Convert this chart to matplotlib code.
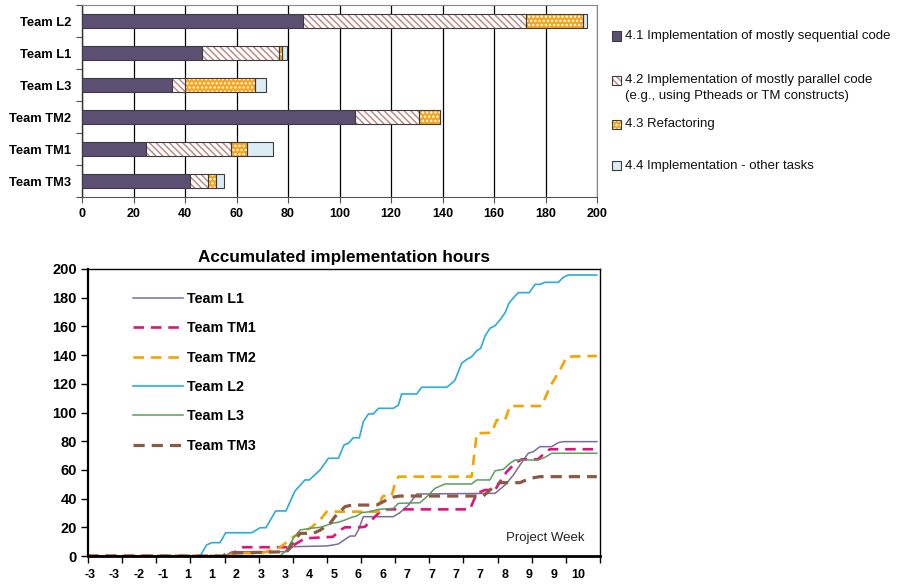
import numpy as np
import matplotlib
matplotlib.use('Agg')
import matplotlib.pyplot as plt
from matplotlib.patches import Rectangle

plt.rcParams['font.family'] = ['Liberation Sans', 'DejaVu Sans']
plt.rcParams['hatch.linewidth'] = 1.1

# ---------------- data: stacked bars ----------------
teams = ['Team L2', 'Team L1', 'Team L3', 'Team TM2', 'Team TM1', 'Team TM3']
seq_hours = [86, 46.5, 35, 106, 25, 42]
par_hours = [86.5, 30, 5, 25, 33, 6.8]
refac_hours = [22, 1, 27, 8, 6, 3.3]
other_hours = [1.8, 2.2, 4.5, 0, 10, 2.9]
bar_legend = ['4.1 Implementation of mostly sequential code',
              '4.2 Implementation of mostly parallel code\n(e.g., using Ptheads or TM constructs)',
              '4.3 Refactoring',
              '4.4 Implementation - other tasks']

# ---------------- data: accumulated hours ----------------
week_labels = ['-3', '-3', '-2', '-1', '1', '1', '2', '3', '3', '4', '5', '6',
               '6', '7', '7', '7', '7', '8', '9', '9', '10']

L1_x = [-0.1, 5.53, 5.82, 8.07, 8.32, 9.70, 9.97, 10.18, 10.45, 10.66, 10.86, 11.00, 11.20, 12.43, 12.70,
        13.05, 13.39, 16.60, 16.80, 17.01, 17.35, 17.62, 17.96, 18.17, 18.44, 18.92, 19.19, 19.40, 20.77]
L1_y = [0, 0, 3, 3, 6.5, 7, 7.7, 8.4, 11.6, 13.9, 13.9, 18.1, 27.4, 27.4, 30.2, 35.5, 43.2, 43.7, 46.5,
        49.5, 56.4, 63.4, 71.6, 72.7, 76.2, 76.2, 79, 79.7, 79.7]

TM1_x = [-0.1, 5.66, 6.27, 8.20, 8.81, 9.96, 10.25, 10.45, 11.07, 11.27, 11.68, 11.95, 12.16, 15.57, 15.85,
         16.19, 16.60, 16.80, 17.08, 17.42, 17.69, 18.36, 18.65, 18.85, 20.77]
TM1_y = [0, 0, 6.1, 6.1, 12.3, 13.4, 18.1, 20, 20, 20.4, 27.4, 32, 32.5, 32.5, 43.7, 46, 46, 51.8, 58.7,
         64.6, 67.4, 67.4, 72, 74.4, 74.4]

TM2_x = [-0.1, 5.66, 5.94, 7.05, 7.79, 8.33, 8.47, 9.02, 9.43, 9.70, 11.82, 11.95, 12.02, 12.36, 12.50,
         12.64, 15.64, 15.85, 16.46, 16.67, 17.01, 17.21, 18.51, 18.85, 19.26, 19.54, 20.77]
TM2_y = [0, 0, 2, 2, 6, 13.4, 14.6, 19.3, 25.1, 30.9, 30.9, 40.2, 41.8, 41.8, 50.7, 55.3, 55.3, 85.5,
         85.9, 94.8, 94.8, 104.5, 104.5, 118, 129.6, 138.9, 139.4]

L2_x = [-0.1, 4.51, 4.78, 4.99, 5.33, 5.56, 6.63, 6.97, 7.21, 7.61, 8.03, 8.40, 8.81, 8.99, 9.43, 9.77,
        10.18, 10.41, 10.59, 10.79, 11.04, 11.20, 11.41, 11.61, 11.82, 12.43, 12.64, 12.77, 13.39, 13.59,
        14.62, 14.82, 14.96, 15.23, 15.44, 15.64, 15.85, 16.01, 16.19, 16.39, 16.60, 16.80, 17.01, 17.18,
        17.42, 17.55, 18.00, 18.24, 18.44, 18.65, 19.19, 19.40, 19.60, 20.77]
L2_y = [0, 0, 7.7, 9.3, 9.3, 16.2, 16.2, 19.7, 19.7, 31.4, 31.4, 45.3, 53, 53, 60, 68.1, 68.1, 77.4,
        78.5, 82.4, 82.4, 93.6, 99, 99, 102.9, 102.9, 105.2, 112.9, 112.9, 117.6, 117.6, 120.3, 122.6,
        134.3, 137, 138.9, 143, 144.7, 153.3, 158.7, 160.5, 164.5, 169.5, 176.5, 181.2, 183.5, 183.5,
        189.3, 189.3, 190.7, 190.7, 194.2, 195.8, 195.8]

L3_x = [-0.1, 7.79, 8.06, 8.33, 8.61, 9.02, 9.43, 9.63, 9.91, 10.18, 10.45, 10.73, 10.93, 11.13, 11.48,
        11.82, 12.43, 12.64, 13.52, 13.80, 14.14, 14.55, 15.64, 15.85, 16.39, 16.60, 16.94, 17.21, 17.42,
        18.37, 18.65, 18.92, 20.77]
L3_y = [0, 0, 4.2, 12.3, 18.1, 19.3, 20, 21, 22.8, 23.5, 25.1, 27, 27.9, 30.2, 30.9, 32.5, 33.2, 36.7,
        37.1, 41.3, 47.2, 50.2, 50.2, 53, 53, 59.4, 60.4, 64.6, 66.9, 66.9, 68.8, 71.6, 71.6]

TM3_x = [-0.1, 5.45, 5.60, 8.06, 8.40, 8.61, 9.16, 9.43, 9.84, 10.04, 10.45, 10.73, 11.75, 12.09, 12.36,
         12.70, 16.12, 16.39, 16.80, 17.62, 18.03, 18.44, 20.77]
TM3_y = [0, 0, 1.9, 3, 11.1, 15.8, 15.8, 18, 22.8, 27.4, 34.4, 35.5, 35.5, 38.5, 40.9, 41.8, 41.8, 46,
         51.1, 51.1, 54.1, 55.3, 55.3]

# ---------------- figure ----------------
W, H = 898, 586
fig = plt.figure(figsize=(W / 100, H / 100), dpi=100)

# ===== top: stacked horizontal bars =====
ax1 = fig.add_axes([82 / W, 1 - 197 / H, 515 / W, 192 / H])
n = len(teams)
ypos = np.arange(n)[::-1]
bh = 0.44
edge = '#3c3c3c'
seq_c = '#5b4f72'
par_hatch_c = '#c08c8c'
ref_c = '#f7a51c'
oth_c = '#dcecf5'

left = np.zeros(n)
ax1.barh(ypos, seq_hours, height=bh, left=left, color=seq_c, edgecolor=edge, lw=0.8, zorder=3)
left = left + np.array(seq_hours)
ax1.barh(ypos, par_hours, height=bh, left=left, color='white', edgecolor=par_hatch_c,
         hatch='\\\\\\\\\\', lw=0, zorder=3)
ax1.barh(ypos, par_hours, height=bh, left=left, fill=False, edgecolor=edge, lw=0.8, zorder=4)
left = left + np.array(par_hours)
ax1.barh(ypos, refac_hours, height=bh, left=left, color=ref_c, edgecolor='white',
         hatch='....', lw=0, zorder=3)
ax1.barh(ypos, refac_hours, height=bh, left=left, fill=False, edgecolor=edge, lw=0.8, zorder=4)
left = left + np.array(refac_hours)
ax1.barh(ypos, other_hours, height=bh, left=left, color=oth_c, edgecolor=edge, lw=0.8, zorder=3)

ax1.set_xlim(0, 200)
ax1.set_ylim(-0.5, n - 0.5)
ax1.set_xticks(np.arange(0, 201, 20))
ax1.set_xticklabels([str(v) for v in range(0, 201, 20)], fontsize=9, fontweight='bold')
ax1.grid(axis='x', color='black', lw=0.9, zorder=0)
ax1.set_yticks(np.arange(-0.5, n, 1.0))
ax1.set_yticklabels([])
ax1.set_yticks(ypos, teams, minor=True)
for t in ax1.get_yticklabels(minor=True):
    t.set_fontweight('bold')
    t.set_fontsize(9.3)
ax1.tick_params(axis='y', which='minor', length=0, pad=8)
ax1.tick_params(axis='y', which='major', length=4, direction='out', color='#555555')
ax1.tick_params(axis='x', length=4, direction='out', color='#555555', pad=4)
ax1.spines['left'].set_color('#333333')
ax1.spines['left'].set_linewidth(1.0)
ax1.spines['bottom'].set_color('#555555')
ax1.spines['top'].set_color('#888888')
ax1.spines['right'].set_color('#888888')

# legend of the bar chart (drawn in figure coords)
leg_first_y = [36, 80, 124, 166]
line_h = 16
sq = 9
styles = [dict(facecolor=seq_c, edgecolor=edge, hatch=None),
          dict(facecolor='white', edgecolor=par_hatch_c, hatch='\\\\\\\\\\'),
          dict(facecolor=ref_c, edgecolor='white', hatch='....'),
          dict(facecolor=oth_c, edgecolor=edge, hatch=None)]
for lab, yc, st in zip(bar_legend, leg_first_y, styles):
    r = Rectangle((612 / W, 1 - (yc + sq / 2) / H), sq / W, sq / H, transform=fig.transFigure,
                  facecolor=st['facecolor'], edgecolor=st['edgecolor'], hatch=st['hatch'], lw=0.0)
    fig.add_artist(r)
    r2 = Rectangle((612 / W, 1 - (yc + sq / 2) / H), sq / W, sq / H, transform=fig.transFigure,
                   fill=False, edgecolor=edge, lw=0.8)
    fig.add_artist(r2)
    nl = lab.count('\n')
    fig.text(625 / W, 1 - (yc + nl * line_h / 2) / H, lab, fontsize=9.5, va='center', ha='left',
             linespacing=1.45, color='#111111')

# ===== bottom: accumulated hours =====
ax2 = fig.add_axes([88 / W, 30 / H, 512 / W, 287 / H])
series = [
    ('Team L1', L1_x, L1_y, dict(color='#7a6c9c', lw=1.1, ls='-')),
    ('Team TM1', TM1_x, TM1_y, dict(color='#e0127e', lw=1.9, ls=(0, (4, 2.6)))),
    ('Team TM2', TM2_x, TM2_y, dict(color='#f5a300', lw=1.9, ls=(0, (4, 2.6)))),
    ('Team L2', L2_x, L2_y, dict(color='#29acdc', lw=1.2, ls='-')),
    ('Team L3', L3_x, L3_y, dict(color='#5c9e5c', lw=1.1, ls='-')),
    ('Team TM3', TM3_x, TM3_y, dict(color='#8c5a40', lw=2.3, ls=(0, (3.5, 2.2)))),
]
for name, xs, ys, st in series:
    ax2.plot(xs, ys, label=name, **st)

xmin, xmax = -0.082, 20.9
ax2.set_xlim(xmin, xmax)
ax2.set_ylim(0, 200)
ax2.set_yticks(np.arange(0, 201, 20))
ax2.set_yticklabels([str(v) for v in range(0, 201, 20)], fontsize=10.5, fontweight='bold')
ax2.set_xticks(np.linspace(xmin, xmax, 16))
ax2.set_xticklabels([])
ax2.set_xticks(np.arange(len(week_labels)), week_labels, minor=True)
for t in ax2.get_xticklabels(minor=True):
    t.set_fontweight('bold')
    t.set_fontsize(9)
ax2.tick_params(axis='x', which='minor', length=0, pad=9)
ax2.tick_params(axis='x', which='major', length=5, direction='out', width=1.0)
ax2.tick_params(axis='y', length=5, direction='out', width=1.0, pad=3)
ax2.spines['left'].set_linewidth(1.6)
ax2.spines['bottom'].set_linewidth(2.0)
ax2.spines['top'].set_linewidth(1.0)
ax2.spines['right'].set_linewidth(1.0)

ax2.set_title('Accumulated implementation hours', fontsize=12.3, fontweight='bold', pad=5)
ax2.text((545 - 88) / 512, (556 - 538) / 287, 'Project Week', transform=ax2.transAxes,
         ha='center', va='center', fontsize=9.5, color='#222222')

leg = ax2.legend(loc='upper left', bbox_to_anchor=((133 - 88) / 512, (556 - 292) / 287),
                 frameon=False, fontsize=10.3, handlelength=3.5, handletextpad=0.3,
                 labelspacing=1.07, borderpad=0, borderaxespad=0)
for t in leg.get_texts():
    t.set_fontweight('bold')

fig.savefig('out.png', dpi=100)
